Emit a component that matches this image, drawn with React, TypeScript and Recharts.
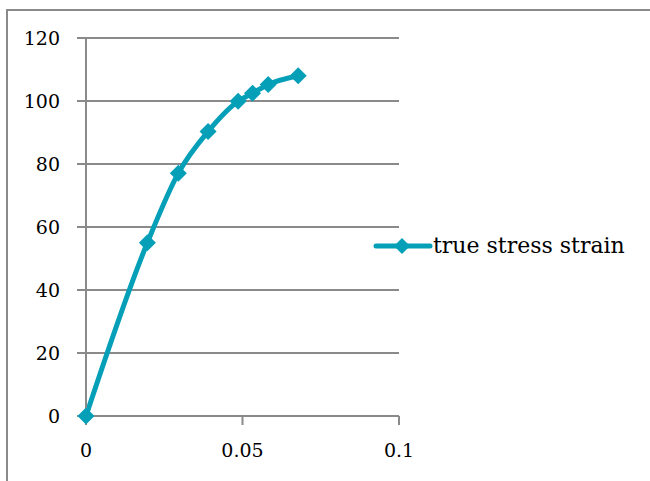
import React from 'react';
import {
  LineChart,
  Line,
  XAxis,
  YAxis,
  CartesianGrid,
} from 'recharts';

const strainValues = [0, 0.0196, 0.0295, 0.039, 0.0486, 0.0532, 0.0582, 0.0678];
const stressValues = [0, 55, 77.1, 90.3, 99.9, 102.5, 105.2, 108];
const xTicks = [0, 0.05, 0.1];
const yTicks = [0, 20, 40, 60, 80, 100, 120];
const seriesName = 'true stress strain';

const LINE_COLOR = '#05a0b8';
const GRID_COLOR = '#8a8a8a';
const FONT = '"DejaVu Serif", serif';

const chartData = strainValues.map((x, i) => ({ x, y: stressValues[i] }));

function Diamond(props: any) {
  const { cx, cy } = props;
  if (cx == null || cy == null) return null;
  const r = 8.5;
  return (
    <polygon
      points={`${cx},${cy - r} ${cx + r},${cy} ${cx},${cy + r} ${cx - r},${cy}`}
      fill={LINE_COLOR}
    />
  );
}

export default function App() {
  return (
    <div
      style={{
        position: 'absolute',
        left: 0,
        top: 0,
        width: 650,
        height: 481,
        background: '#fff',
        overflow: 'hidden',
      }}
    >
      {/* chart frame, only top and left edges visible */}
      <div
        style={{
          position: 'absolute',
          left: 6,
          top: 9,
          width: 700,
          height: 520,
          borderLeft: `2px solid ${GRID_COLOR}`,
          borderTop: `2px solid ${GRID_COLOR}`,
        }}
      />
      <div style={{ position: 'absolute', left: 0, top: 0 }}>
        <LineChart
          width={650}
          height={481}
          data={chartData}
          margin={{ top: 38, right: 251, left: 26, bottom: 35 }}
        >
          <CartesianGrid
            vertical={false}
            stroke={GRID_COLOR}
            strokeWidth={2}
          />
          <XAxis
            dataKey="x"
            type="number"
            domain={[0, 0.1]}
            ticks={xTicks}
            tickFormatter={(v: number) => String(v)}
            stroke={GRID_COLOR}
            strokeWidth={2}
            tickSize={9}
            tickMargin={19}
            height={30}
            tick={{ fill: '#000', fontSize: 19, fontFamily: FONT }}
          />
          <YAxis
            type="number"
            domain={[0, 120]}
            ticks={yTicks}
            stroke={GRID_COLOR}
            strokeWidth={2}
            tickSize={9}
            tickMargin={17}
            width={60}
            tick={{ fill: '#000', fontSize: 19, fontFamily: FONT }}
          />
          <Line
            dataKey="y"
            name={seriesName}
            type="monotone"
            stroke={LINE_COLOR}
            strokeWidth={5}
            dot={<Diamond />}
            activeDot={false}
            isAnimationActive={false}
          />
        </LineChart>
      </div>
      {/* legend */}
      <div
        style={{
          position: 'absolute',
          left: 373,
          top: 231,
          display: 'flex',
          alignItems: 'center',
          height: 30,
        }}
      >
        <svg width={60} height={30}>
          <line x1={3} y1={15} x2={57} y2={15} stroke={LINE_COLOR} strokeWidth={5} strokeLinecap="round" />
          <polygon points="29,7 37,15 29,23 21,15" fill={LINE_COLOR} />
        </svg>
        <span style={{ fontFamily: FONT, fontSize: 22, color: '#000', lineHeight: '30px' }}>
          {seriesName}
        </span>
      </div>
    </div>
  );
}
